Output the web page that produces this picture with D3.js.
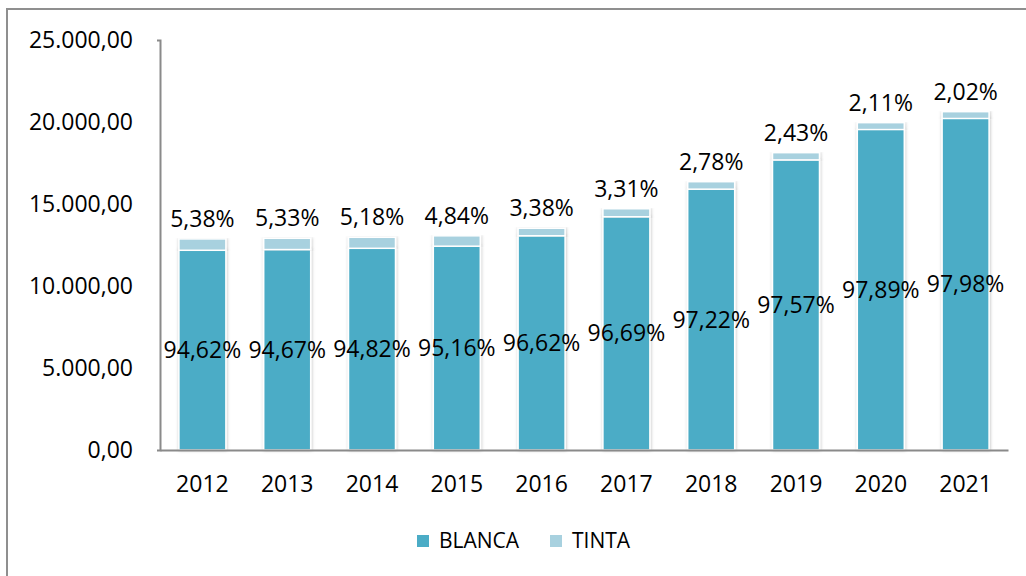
<!DOCTYPE html>
<html lang="es">
<head>
<meta charset="UTF-8">
<title>BLANCA / TINTA</title>
<script src="https://d3js.org/d3.v7.min.js"></script>
<style>
    body {
        margin: 0;
        background: #ffffff;
        font-family: "Open Sans", "Liberation Sans", sans-serif;
    }
    svg text { fill: #000; }
</style>
</head>
<body>
<svg width="1026" height="576"></svg>
<script>
    // Data
    var years = ["2012", "2013", "2014", "2015", "2016", "2017", "2018", "2019", "2020", "2021"];
    var blanca = [12178, 12222, 12298, 12428, 13063, 14223, 15905, 17689, 19539, 20213];
    var tinta = [692, 688, 672, 632, 457, 487, 455, 441, 421, 417];
    var blancaLabels = ["94,62%", "94,67%", "94,82%", "95,16%", "96,62%", "96,69%", "97,22%", "97,57%", "97,89%", "97,98%"];
    var tintaLabels = ["5,38%", "5,33%", "5,18%", "4,84%", "3,38%", "3,31%", "2,78%", "2,43%", "2,11%", "2,02%"];
    var yTicks = [0, 5000, 10000, 15000, 20000, 25000];

    var seriesNames = ["BLANCA", "TINTA"];
    var colors = ["#4bacc6", "#a8d1df"];

    var margin = { top: 40, right: 18, bottom: 126, left: 160 },
        width = 1026 - margin.left - margin.right,
        height = 576 - margin.top - margin.bottom;

    var svg = d3.select("svg");

    // outer chart frame (only top and left edges show in the picture)
    svg.append("rect")
        .attr("x", 7).attr("y", 9)
        .attr("width", 1040).attr("height", 600)
        .attr("fill", "none")
        .attr("stroke", "#8f8f8f")
        .attr("stroke-width", 2);

    var defs = svg.append("defs");
    var f = defs.append("filter").attr("id", "shadow")
        .attr("x", "-20%").attr("y", "-5%").attr("width", "140%").attr("height", "110%");
    f.append("feDropShadow")
        .attr("dx", 0.5).attr("dy", 0).attr("stdDeviation", 1.6)
        .attr("flood-color", "#000").attr("flood-opacity", 0.25);

    var g = svg.append("g")
        .attr("transform", "translate(" + margin.left + "," + margin.top + ")");

    var table = years.map(function(y, i) {
        return { year: y, BLANCA: blanca[i], TINTA: tinta[i], i: i };
    });

    var x = d3.scaleBand()
        .domain(years)
        .range([0, width])
        .paddingInner(0.446)
        .paddingOuter(0.223);

    var y = d3.scaleLinear()
        .domain([0, 25000])
        .range([height, 0]);

    var fmt = function(v) {
        return d3.format(",.2f")(v).replace(/,/g, "#").replace(/\./g, ",").replace(/#/g, ".");
    };

    // axes
    var yAxis = g.append("g")
        .call(d3.axisLeft(y).tickValues(yTicks).tickFormat(fmt).tickSizeInner(0).tickSizeOuter(3).tickPadding(27));
    yAxis.select(".domain").attr("stroke", "#8a8a8a").attr("stroke-width", 2);
    yAxis.selectAll("text").style("font-size", "23px").style("font-family", "'Open Sans', sans-serif");

    var stacked = d3.stack().keys(seriesNames)(table);

    g.append("g")
        .selectAll("g")
        .data(stacked)
        .join("g")
        .attr("fill", function(d, i) { return colors[i]; })
        .selectAll("rect")
        .data(function(d) { return d; })
        .join("rect")
        .attr("x", function(d) { return x(d.data.year); })
        .attr("y", function(d) { return y(d[1]); })
        .attr("height", function(d) { return y(d[0]) - y(d[1]); })
        .attr("width", x.bandwidth())
        .attr("stroke", "#ffffff")
        .attr("stroke-width", 1.5)
        .attr("filter", "url(#shadow)");

    var xAxis = g.append("g")
        .attr("transform", "translate(0," + height + ")")
        .call(d3.axisBottom(x).tickSizeInner(0).tickSizeOuter(0).tickPadding(26));
    xAxis.select(".domain").attr("stroke", "#8a8a8a").attr("stroke-width", 2);
    xAxis.selectAll("text").style("font-size", "23px").style("font-family", "'Open Sans', sans-serif");

    // BLANCA labels: centred in the segment
    g.append("g")
        .selectAll("text")
        .data(table)
        .join("text")
        .attr("x", function(d) { return x(d.year) + x.bandwidth() / 2; })
        .attr("y", function(d) { return y(d.BLANCA / 2); })
        .attr("dy", "0.35em")
        .attr("text-anchor", "middle")
        .style("font-size", "23px")
        .text(function(d) { return blancaLabels[d.i]; });

    // TINTA labels: above the bar
    g.append("g")
        .selectAll("text")
        .data(table)
        .join("text")
        .attr("x", function(d) { return x(d.year) + x.bandwidth() / 2; })
        .attr("y", function(d) { return y(d.BLANCA + d.TINTA) - 12; })
        .attr("text-anchor", "middle")
        .style("font-size", "23px")
        .text(function(d) { return tintaLabels[d.i]; });

    // legend
    var legendX = [417, 550];
    var legend = svg.append("g")
        .selectAll("g")
        .data(seriesNames)
        .join("g")
        .attr("transform", function(d, i) { return "translate(" + legendX[i] + ",541)"; });
    legend.append("rect")
        .attr("x", 0).attr("y", -6)
        .attr("width", 12).attr("height", 12)
        .attr("fill", function(d, i) { return colors[i]; });
    legend.append("text")
        .attr("x", 22)
        .attr("dy", "0.35em")
        .style("font-size", "21px")
        .text(function(d) { return d; });
</script>
</body>
</html>
